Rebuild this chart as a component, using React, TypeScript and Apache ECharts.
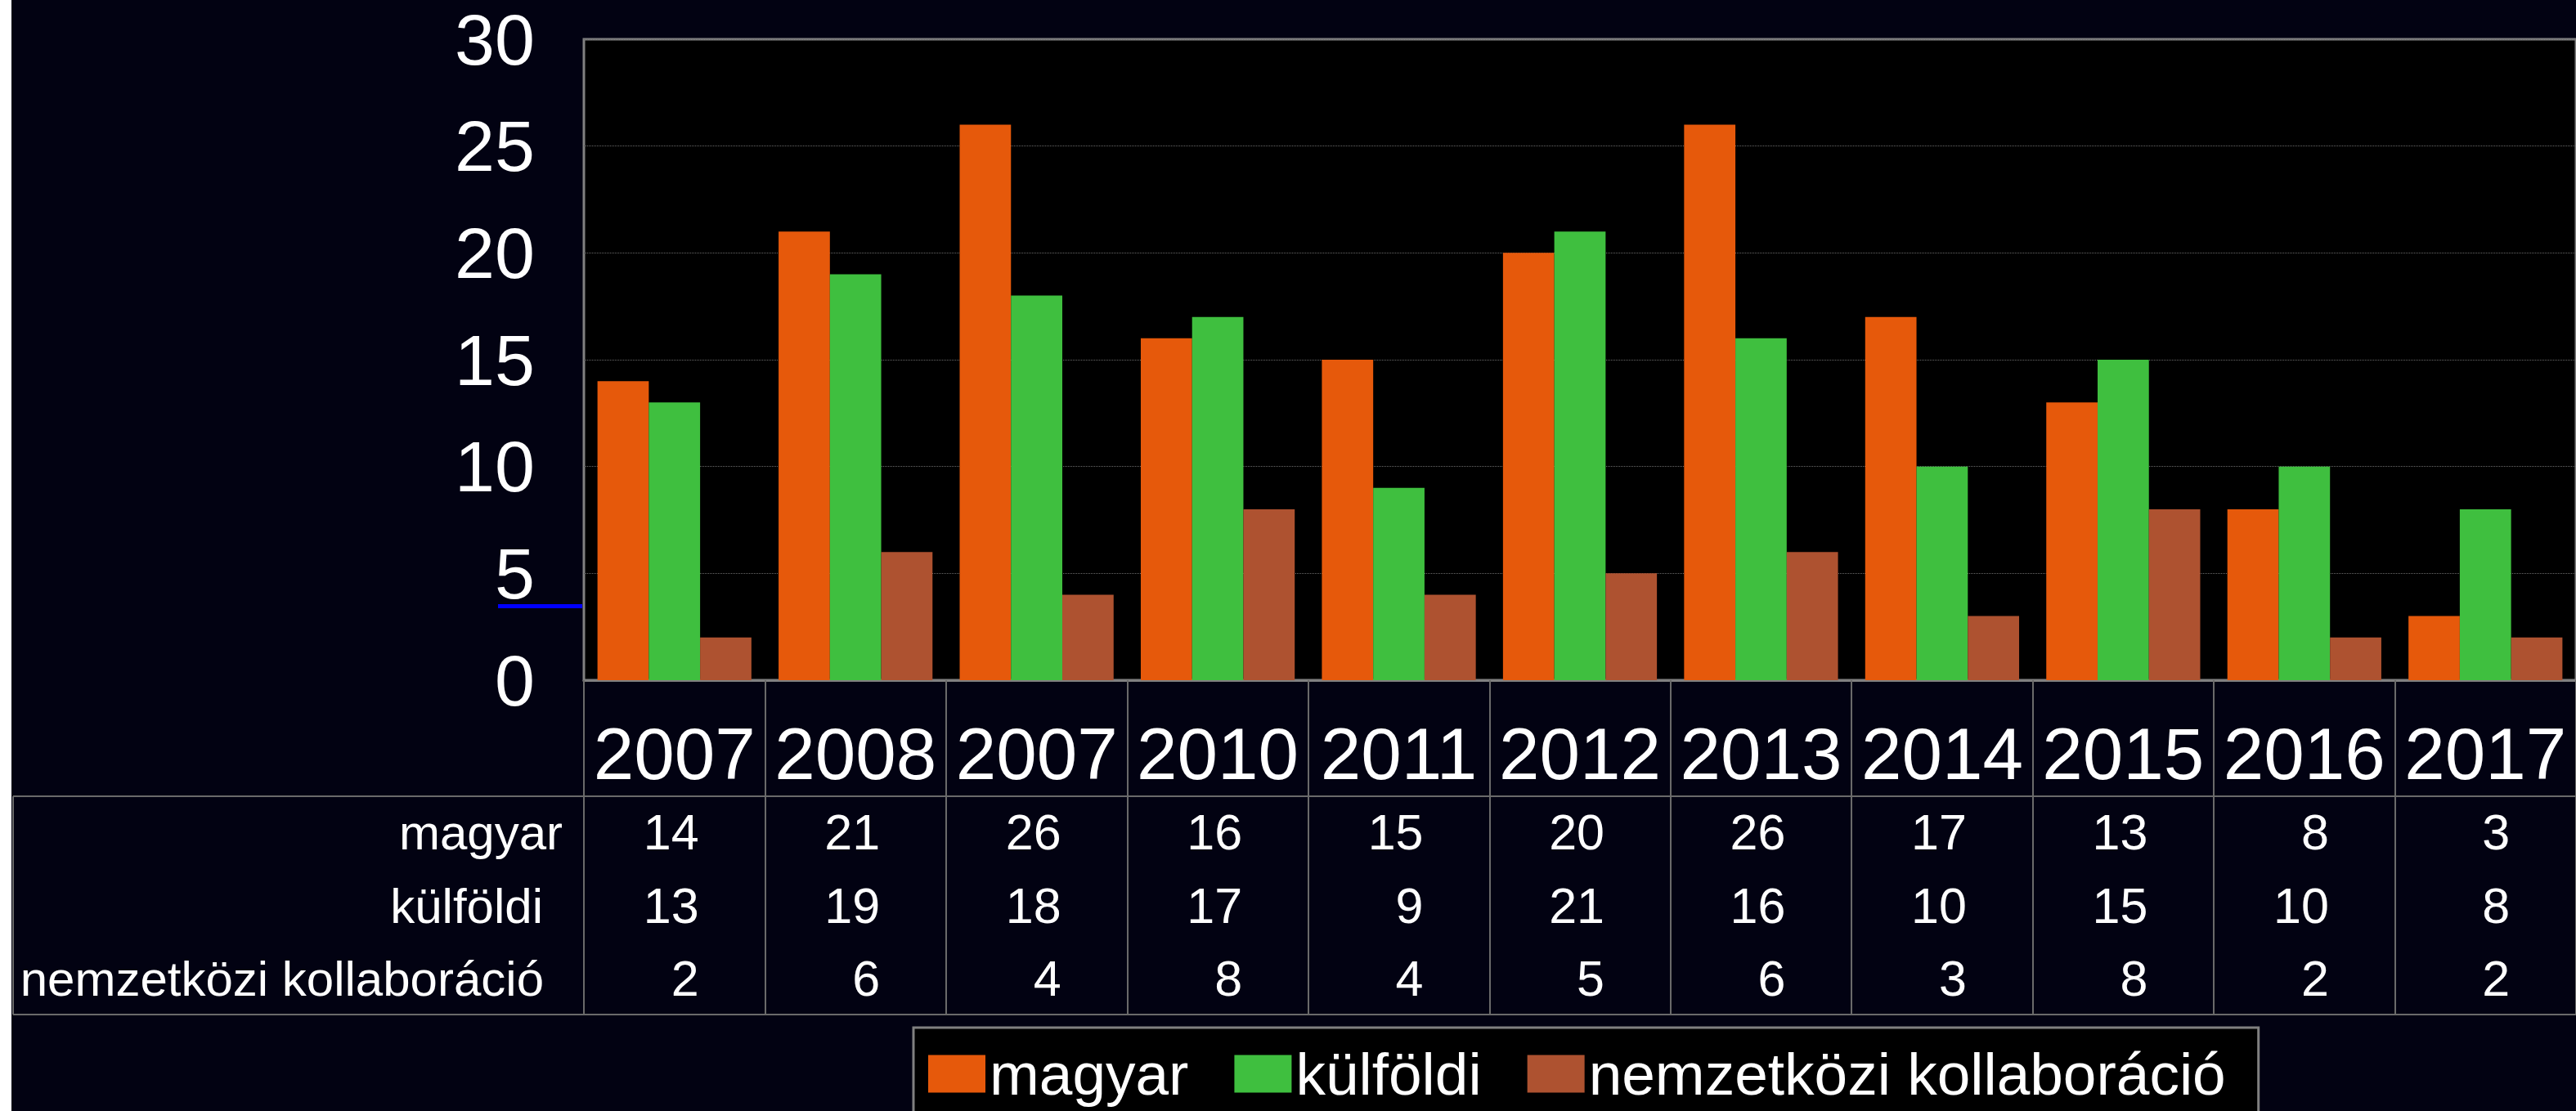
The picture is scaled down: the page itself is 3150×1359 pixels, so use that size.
import React, { useEffect, useRef } from "react";
import * as echarts from "echarts";

const years = ["2007", "2008", "2007", "2010", "2011", "2012", "2013", "2014", "2015", "2016", "2017"];
const magyar = [14, 21, 26, 16, 15, 20, 26, 17, 13, 8, 3];
const kulfoldi = [13, 19, 18, 17, 9, 21, 16, 10, 15, 10, 8];
const nemzetkozi = [2, 6, 4, 8, 4, 5, 6, 3, 8, 2, 2];
const seriesNames = ["magyar", "külföldi", "nemzetközi kollaboráció"];
const seriesColors = ["#e6590b", "#3fbf3f", "#ae5230"];
const yMin = 0;
const yMax = 30;
const yInterval = 5;

const FONT = "'Liberation Sans', Arial, Helvetica, sans-serif";
const BG = "#020212";
const GRAY = "#808080";
const TABLE_LINE = "#6a6a6a";

function rowAxis(vals: number[], margin: number) {
  return {
    type: "category",
    data: years,
    gridIndex: 0,
    position: "bottom",
    offset: 0,
    axisLine: { show: false },
    axisTick: { show: false },
    splitLine: { show: false },
    axisLabel: {
      interval: 0,
      margin,
      verticalAlign: "middle",
      fontSize: 61,
      color: "#ffffff",
      fontFamily: FONT,
      formatter: (_v: string, i: number) => `{v|${vals[i]}}`,
      rich: {
        v: { width: 60, align: "right", fontSize: 61, color: "#ffffff", fontFamily: FONT },
      },
    },
  };
}

export default function App() {
  const ref = useRef<HTMLDivElement>(null);

  useEffect(() => {
    if (!ref.current) return;
    const chart = echarts.init(ref.current, null, { renderer: "svg" });
    const rowHeaders = [
      { text: seriesNames[0], x: 688, y: 1018 },
      { text: seriesNames[1], x: 664, y: 1108 },
      { text: seriesNames[2], x: 665, y: 1197 },
    ];
    const option: any = {
      animation: false,
      backgroundColor: BG,
      textStyle: { fontFamily: FONT },
      grid: {
        left: 714,
        top: 48,
        width: 2449,
        height: 784,
        show: true,
        backgroundColor: "#000000",
        borderColor: GRAY,
        borderWidth: 3,
        containLabel: false,
      },
      legend: {
        left: 1117,
        top: 1257,
        padding: [20, 40, 70, 18],
        backgroundColor: "#000000",
        borderColor: GRAY,
        borderWidth: 3,
        itemWidth: 70,
        itemHeight: 46,
        itemGap: 56,
        icon: "rect",
        data: seriesNames,
        textStyle: { color: "#ffffff", fontSize: 73, fontFamily: FONT },
      },
      xAxis: [
        {
          type: "category",
          data: years,
          gridIndex: 0,
          position: "bottom",
          axisLine: { show: true, lineStyle: { color: GRAY, width: 3 } },
          axisTick: {
            show: true,
            length: 408,
            alignWithLabel: false,
            interval: 0,
            lineStyle: { color: TABLE_LINE, width: 2 },
          },
          splitLine: { show: false },
          axisLabel: {
            interval: 0,
            margin: 90,
            verticalAlign: "middle",
            color: "#ffffff",
            fontSize: 89,
            fontFamily: FONT,
          },
        },
        rowAxis(magyar, 186),
        rowAxis(kulfoldi, 276),
        rowAxis(nemzetkozi, 365),
      ],
      yAxis: {
        type: "value",
        min: yMin,
        max: yMax,
        interval: yInterval,
        axisLine: { show: false },
        axisTick: { show: false },
        splitLine: { show: true, lineStyle: { color: "#6a6a6a", width: 1, type: "dotted" } },
        axisLabel: {
          margin: 60,
          color: "#ffffff",
          fontSize: 88,
          fontFamily: FONT,
          verticalAlign: "middle",
        },
      },
      series: [
        {
          name: seriesNames[0],
          type: "bar",
          data: magyar,
          barGap: "0%",
          barCategoryGap: "15%",
          itemStyle: { color: seriesColors[0] },
        },
        {
          name: seriesNames[1],
          type: "bar",
          data: kulfoldi,
          barGap: "0%",
          barCategoryGap: "15%",
          itemStyle: { color: seriesColors[1] },
        },
        {
          name: seriesNames[2],
          type: "bar",
          data: nemzetkozi,
          barGap: "0%",
          barCategoryGap: "15%",
          itemStyle: { color: seriesColors[2] },
        },
      ],
      graphic: [
        { type: "rect", shape: { x: 0, y: 0, width: 14, height: 1359 }, style: { fill: "#ffffff" }, z: 100 },
        { type: "line", shape: { x1: 16, y1: 974, x2: 3150, y2: 974 }, style: { stroke: TABLE_LINE, lineWidth: 2 } },
        { type: "line", shape: { x1: 16, y1: 1241, x2: 3150, y2: 1241 }, style: { stroke: TABLE_LINE, lineWidth: 2 } },
        { type: "line", shape: { x1: 16, y1: 974, x2: 16, y2: 1241 }, style: { stroke: TABLE_LINE, lineWidth: 2 } },
        { type: "line", shape: { x1: 609, y1: 741.5, x2: 712, y2: 741.5 }, style: { stroke: "#0000ff", lineWidth: 5 } },
        ...rowHeaders.map((h) => ({
          type: "text",
          x: h.x,
          y: h.y,
          style: {
            text: h.text,
            fill: "#ffffff",
            fontSize: 60,
            fontFamily: FONT,
            align: "right",
            verticalAlign: "middle",
          },
        })),
      ],
    };
    chart.setOption(option);
    return () => chart.dispose();
  }, []);

  return (
    <div
      style={{
        position: "absolute",
        left: 0,
        top: 0,
        width: 3150,
        height: 1359,
        overflow: "hidden",
        background: BG,
      }}
    >
      <div ref={ref} style={{ width: 3150, height: 1359 }} />
    </div>
  );
}
